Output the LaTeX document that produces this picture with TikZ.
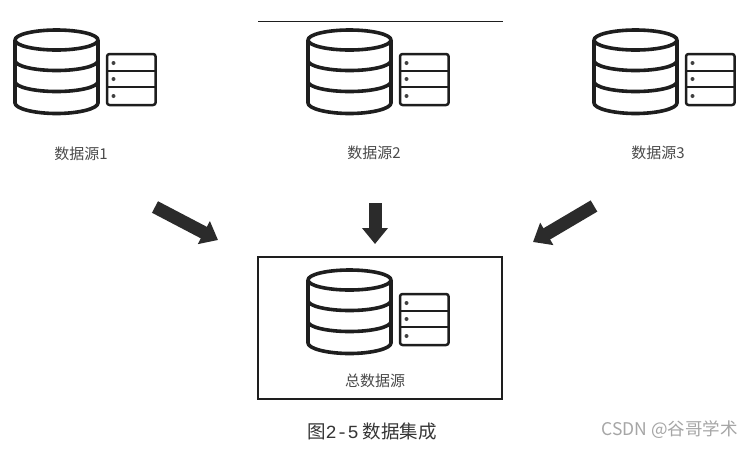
\documentclass[tikz,border=0pt]{standalone}
\usepackage{fontspec}
\newfontfamily\cjk{Noto Sans CJK SC}
\newfontfamily\monofam{Liberation Mono}
\usetikzlibrary{arrows.meta}
\definecolor{ink}{HTML}{1E1E1E}
\definecolor{arrowink}{HTML}{2B2B2B}
\definecolor{labelgray}{HTML}{4A4A4A}
\definecolor{wmgray}{HTML}{A6A6A6}
\tikzset{
  iconline/.style={draw=ink,line width=3.6pt,line join=round},
  boxline/.style={draw=ink,line width=2.5pt,line join=round},
  srclabel/.style={font=\cjk\fontsize{15}{17}\selectfont,text=labelgray,inner sep=0pt},
  bigarrow/.style={draw=arrowink,line width=13pt,-{Triangle[length=16pt,width=25pt]}},
  dbicon/.pic={
    \draw[iconline] (14,40) .. controls (14,34.5) and (32.8,30) .. (55.5,30)
      .. controls (78.3,30) and (97,34.5) .. (97,40)
      .. controls (97,45.5) and (78.3,50) .. (55.5,50)
      .. controls (32.8,50) and (14,45.5) .. (14,40) -- cycle;
    \draw[iconline] (14,40) -- (14,103) .. controls (14,108.5) and (32.8,113.5) .. (55.5,113.5)
      .. controls (78.3,113.5) and (97,108.5) .. (97,103) -- (97,40);
    \foreach \yy in {60.5,81.5}{
      \draw[iconline] (14,\yy) .. controls (14,\yy+5.5) and (32.8,\yy+10) .. (55.5,\yy+10)
        .. controls (78.3,\yy+10) and (97,\yy+5.5) .. (97,\yy);
    }
    \draw[boxline,rounded corners=2.5pt] (106,54) rectangle (154.6,105);
    \draw[boxline] (106,71) -- (154.6,71);
    \draw[boxline] (106,87) -- (154.6,87);
    \foreach \yy in {63,79,96}{ \fill[ink!85] (112.5,\yy) circle (2pt); }
  }
}
\begin{document}
\begin{tikzpicture}[x=1pt,y=-1pt]
\useasboundingbox (0,0) rectangle (754,448);
\fill[white] (0,0) rectangle (754,448);
\draw[ink,line width=0.8pt] (258,21.5) -- (503,21.5);
\pic at (1,0) {dbicon};
\pic at (294,0) {dbicon};
\pic at (580,0) {dbicon};
\pic at (294,240) {dbicon};
\node[srclabel] (s1) at (81,154) {数据源1};
\node[srclabel] (s2) at (374,153) {数据源2};
\node[srclabel] (s3) at (658,153) {数据源3};
\node[draw=ink,line width=2.4pt,minimum width=244pt,minimum height=142pt,inner sep=0pt] (total) at (380,328) {};
\node[srclabel] (s4) at (375,381) {总数据源};
\coordinate (a1s) at (155,207);
\coordinate (a1e) at (218,240);
\coordinate (a2s) at (375,203);
\coordinate (a2e) at (375,244);
\coordinate (a3s) at (594,206);
\coordinate (a3e) at (533,242);
\draw[bigarrow] (a1s) -- (a1e);
\draw[bigarrow] (a2s) -- (a2e);
\draw[bigarrow] (a3s) -- (a3e);
\node[inner sep=0pt,text=ink!90,font=\cjk\fontsize{18.5}{20}\selectfont] (cap) at (372,431) {图{\monofam 2-5} 数据集成};
\node[inner sep=0pt,text=wmgray,font=\cjk\fontsize{17.5}{19}\selectfont,anchor=east] (wm) at (738,430) {CSDN @谷哥学术};
\end{tikzpicture}
\end{document}
